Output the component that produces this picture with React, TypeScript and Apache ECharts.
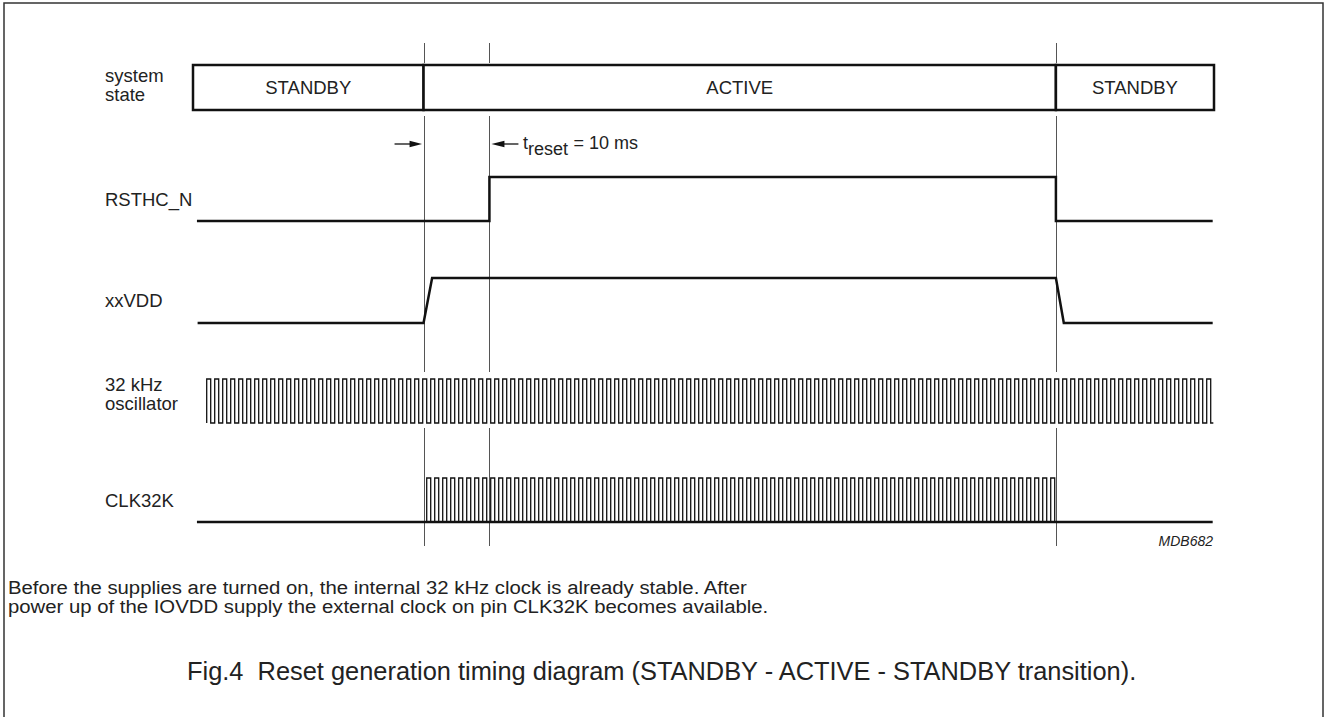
import React, { useEffect, useRef } from "react";
import * as echarts from "echarts";

// ---------------- data ----------------
const timeRange = [0, 155]; // ms, schematic time axis
const stateNames = ["STANDBY", "ACTIVE", "STANDBY"];
const stateBounds = [0, 35, 131, 155];

const rsthcTimes = [0.6, 45, 45, 131, 131, 154.8];
const rsthcLevels = [0, 0, 1, 1, 0, 0];

const xxvddTimes = [0.7, 35, 36.3, 131, 132.2, 154.8];
const xxvddLevels = [0, 0, 1, 1, 0, 0];

// clock: [first rising edge, period, number of pulses]
const oscClock = [2.08, 1.2145, 126];
const oscTail = 154.9;
const clkClock = [35.48, 1.2145, 79];
const clkBaseline = [0.6, 154.8];

const markerTimes = [35, 45, 131];
const resetWindow = [35, 45];

const rowLabels = [["system", "state"], ["RSTHC_N"], ["xxVDD"], ["32 kHz", "oscillator"], ["CLK32K"]];
const resetLabel = ["t", "reset", "= 10 ms"];
const figureCode = "MDB682";
const noteLines = [
  "Before the supplies are turned on, the internal 32 kHz clock is already stable. After",
  "power up of the IOVDD supply the external clock on pin CLK32K becomes available.",
];
const caption = "Fig.4  Reset generation timing diagram (STANDBY - ACTIVE - STANDBY transition).";

// ---------------- layout / style ----------------
const FONT = '"Liberation Sans", Arial, Helvetica, sans-serif';
const LABEL_FONT = `18.5px ${FONT}`;
const INK = "#111";
const TEXT = "#222";
const GUIDE = "#555";
const PLOT_LEFT = 193;
const PLOT_WIDTH = 1021;
const rows = [
  { top: 65, height: 45 },
  { top: 177, height: 44 },
  { top: 278, height: 45 },
  { top: 379, height: 44 },
  { top: 478, height: 44 },
];
const labelY = [[75.5, 94], [199.5], [300], [384.5, 403], [500]];
const guideSpans = [[43, 63], [116, 372], [428, 546]];

function zip(ts: number[], ls: number[]) {
  return ts.map((t, i) => [t, ls[i]]);
}

function clockPoints(clock: number[], tail?: number) {
  const [start, period, pulses] = clock;
  const pts: number[][] = [];
  for (let k = 0; k < pulses; k++) {
    const t = start + k * period;
    pts.push([t, 0], [t, 1], [t + period / 2, 1], [t + period / 2, 0]);
  }
  if (tail != null) pts.push([tail, 0]);
  return pts;
}

function lineSeries(idx: number, data: number[][], width: number) {
  return {
    type: "line",
    xAxisIndex: idx,
    yAxisIndex: idx,
    data,
    symbol: "none",
    showSymbol: false,
    silent: true,
    clip: false,
    lineStyle: { color: INK, width, join: "miter", cap: "butt" },
  };
}

export default function App() {
  const ref = useRef<HTMLDivElement>(null);

  useEffect(() => {
    document.body.style.margin = "0";
    const chart = echarts.init(ref.current!, null, { renderer: "svg" });

    const grids = rows.map((r) => ({ left: PLOT_LEFT, width: PLOT_WIDTH, top: r.top, height: r.height }));
    const xAxes = rows.map((_, i) => ({
      type: "value",
      gridIndex: i,
      min: timeRange[0],
      max: timeRange[1],
      show: false,
    }));
    const yAxes = rows.map((_, i) => ({ type: "value", gridIndex: i, min: 0, max: 1, show: false }));

    const stateData = stateNames.map((n, i) => [stateBounds[i], stateBounds[i + 1], i]);

    chart.setOption({
      animation: false,
      backgroundColor: "#fff",
      grid: grids,
      xAxis: xAxes,
      yAxis: yAxes,
      series: [
        {
          type: "custom",
          xAxisIndex: 0,
          yAxisIndex: 0,
          silent: true,
          data: stateData,
          encode: { x: [0, 1] },
          renderItem: (params: any, api: any) => {
            const p0 = api.coord([api.value(0), 1]);
            const p1 = api.coord([api.value(1), 0]);
            return {
              type: "group",
              children: [
                {
                  type: "rect",
                  shape: { x: p0[0], y: p0[1], width: p1[0] - p0[0], height: p1[1] - p0[1] },
                  style: { fill: "#fff", stroke: INK, lineWidth: 2.5 },
                },
                {
                  type: "text",
                  x: (p0[0] + p1[0]) / 2,
                  y: (p0[1] + p1[1]) / 2,
                  style: {
                    text: stateNames[api.value(2)],
                    font: LABEL_FONT,
                    fill: TEXT,
                    align: "center",
                    verticalAlign: "middle",
                  },
                },
              ],
            };
          },
        },
        lineSeries(1, zip(rsthcTimes, rsthcLevels), 2.5),
        lineSeries(2, zip(xxvddTimes, xxvddLevels), 2.5),
        lineSeries(3, clockPoints(oscClock, oscTail), 1.3),
        lineSeries(4, clockPoints(clkClock), 1.3),
        lineSeries(4, clkBaseline.map((t) => [t, 0]), 2.5),
      ],
    });

    const xp = (t: number) => chart.convertToPixel({ xAxisIndex: 0 }, t) as number;
    const graphic: any[] = [];

    // frame
    graphic.push({
      type: "polyline",
      shape: { points: [[4, 717], [4, 3], [1323, 3], [1323, 717]] },
      style: { stroke: "#333", lineWidth: 1.5, fill: null },
    });

    // guide lines
    markerTimes.forEach((t) => {
      const x = Math.round(xp(t)) + 0.5;
      guideSpans.forEach(([y1, y2]) => {
        graphic.push({
          type: "line",
          shape: { x1: x, y1, x2: x, y2 },
          style: { stroke: GUIDE, lineWidth: 1 },
          z: -1,
        });
      });
    });

    // row labels
    rowLabels.forEach((lines, i) => {
      lines.forEach((txt, j) => {
        graphic.push({
          type: "text",
          x: 105,
          y: labelY[i][j],
          style: { text: txt, font: LABEL_FONT, fill: TEXT, align: "left", verticalAlign: "middle" },
        });
      });
    });

    // t_reset arrows
    const xa = xp(resetWindow[0]);
    const xb = xp(resetWindow[1]);
    const ay = 144;
    graphic.push(
      { type: "line", shape: { x1: xa - 29, y1: ay, x2: xa - 10, y2: ay }, style: { stroke: INK, lineWidth: 1.3 } },
      {
        type: "polygon",
        shape: { points: [[xa - 1.5, ay], [xa - 14, ay - 3.2], [xa - 14, ay + 3.2]] },
        style: { fill: INK },
      },
      { type: "line", shape: { x1: xb + 10, y1: ay, x2: xb + 29, y2: ay }, style: { stroke: INK, lineWidth: 1.3 } },
      {
        type: "polygon",
        shape: { points: [[xb + 2, ay], [xb + 15, ay - 3.2], [xb + 15, ay + 3.2]] },
        style: { fill: INK },
      },
      {
        type: "text",
        x: xb + 33.5,
        y: 143,
        style: { text: resetLabel[0], font: `18px ${FONT}`, fill: TEXT, align: "left", verticalAlign: "middle" },
      },
      {
        type: "text",
        x: xb + 38.5,
        y: 149,
        style: { text: resetLabel[1], font: `18px ${FONT}`, fill: TEXT, align: "left", verticalAlign: "middle" },
      },
      {
        type: "text",
        x: xb + 84,
        y: 143,
        style: { text: resetLabel[2], font: `18px ${FONT}`, fill: TEXT, align: "left", verticalAlign: "middle" },
      }
    );

    // figure code
    graphic.push({
      type: "text",
      x: PLOT_LEFT + PLOT_WIDTH - 1,
      y: 541,
      style: {
        text: figureCode,
        font: `italic 14px ${FONT}`,
        fill: TEXT,
        align: "right",
        verticalAlign: "middle",
      },
    });

    // note + caption
    noteLines.forEach((txt, i) => {
      graphic.push({
        type: "text",
        x: 8,
        y: 588 + i * 19,
        scaleX: 1.13,
        style: { text: txt, font: `18px ${FONT}`, fill: TEXT, align: "left", verticalAlign: "middle" },
      });
    });
    graphic.push({
      type: "text",
      x: 187,
      y: 671,
      style: { text: caption, font: `25.4px ${FONT}`, fill: TEXT, align: "left", verticalAlign: "middle" },
    });

    chart.setOption({ graphic });

    return () => chart.dispose();
  }, []);

  return <div ref={ref} style={{ width: 1326, height: 717 }} />;
}
